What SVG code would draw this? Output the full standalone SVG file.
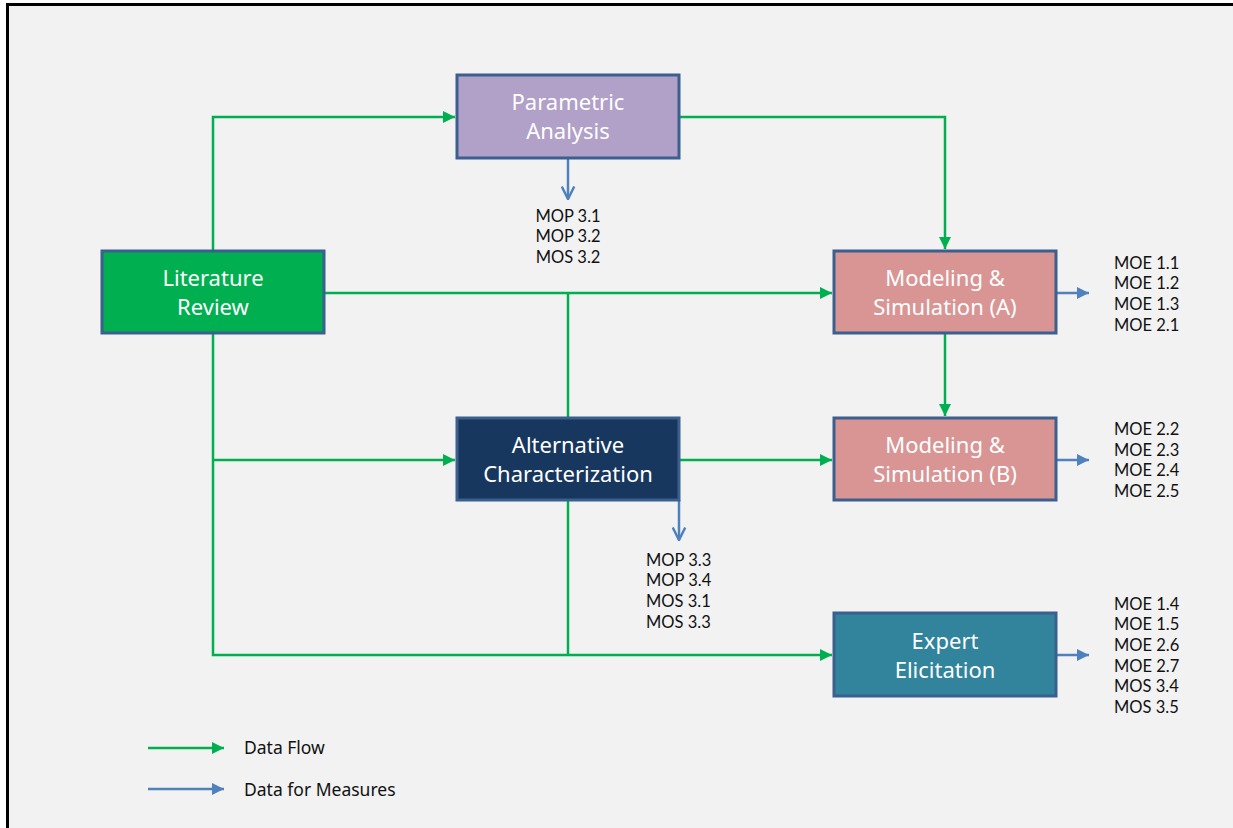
<svg xmlns="http://www.w3.org/2000/svg" width="1233" height="828" viewBox="0 0 1233 828">
<style>
.box{stroke:#3b5f8e;stroke-width:3}
.lbl{font-family:"Noto Sans","Open Sans",sans-serif;font-size:22px;fill:#ffffff;text-anchor:middle}
.sm{font-family:Lato,"Noto Sans",sans-serif;font-size:16.5px;fill:#111111}
.lg{font-family:"Noto Sans","Open Sans",sans-serif;font-size:17.5px;fill:#111111}
.g{stroke:#00b050;stroke-width:2.5;fill:none}
.b{stroke:#4f81bd;stroke-width:2.5;fill:none}
</style>
<defs>
<marker id="ag" viewBox="0 0 10 10" refX="10" refY="5" markerWidth="5" markerHeight="5" orient="auto" markerUnits="strokeWidth"><path d="M0,0 L10,5 L0,10 z" fill="#00b050"/></marker>
<marker id="ab" viewBox="0 0 10 10" refX="10" refY="5" markerWidth="5" markerHeight="5" orient="auto" markerUnits="strokeWidth"><path d="M0,0 L10,5 L0,10 z" fill="#4f81bd"/></marker>
<marker id="av" viewBox="0 0 12 12" refX="11" refY="6" markerWidth="6" markerHeight="6" orient="auto" markerUnits="strokeWidth"><path d="M1,1 L11,6 L1,11" fill="none" stroke="#4f81bd" stroke-width="2"/></marker>
</defs>
<rect x="0" y="0" width="1233" height="828" fill="#ffffff"/>
<rect x="7.5" y="4.5" width="1240" height="840" fill="#f2f2f2" stroke="#000000" stroke-width="3"/>

<g id="connectors">
<polyline class="g" points="213,251 213,117 455,117" marker-end="url(#ag)"/>
<polyline class="g" points="679,117 945,117 945,249" marker-end="url(#ag)"/>
<line class="g" x1="324" y1="293" x2="832" y2="293" marker-end="url(#ag)"/>
<line class="g" x1="568" y1="293" x2="568" y2="418"/>
<polyline class="g" points="213,333 213,655 832,655" marker-end="url(#ag)"/>
<line class="g" x1="213" y1="460" x2="455" y2="460" marker-end="url(#ag)"/>
<line class="g" x1="679" y1="460" x2="832" y2="460" marker-end="url(#ag)"/>
<line class="g" x1="568" y1="500" x2="568" y2="655"/>
<line class="g" x1="945" y1="333" x2="945" y2="416" marker-end="url(#ag)"/>
<line class="b" x1="568" y1="158" x2="568" y2="199" marker-end="url(#av)"/>
<line class="b" x1="679" y1="500" x2="679" y2="540" marker-end="url(#av)"/>
<line class="b" x1="1056" y1="293" x2="1089" y2="293" marker-end="url(#ab)"/>
<line class="b" x1="1056" y1="460" x2="1089" y2="460" marker-end="url(#ab)"/>
<line class="b" x1="1056" y1="655" x2="1089" y2="655" marker-end="url(#ab)"/>
</g>

<g id="parametric">
<rect class="box" x="457" y="75" width="222" height="83" fill="#b1a0c7"/>
<text class="lbl" x="568" y="110">Parametric</text>
<text class="lbl" x="568" y="139">Analysis</text>
</g>
<g id="literature">
<rect class="box" x="102" y="251" width="222" height="82" fill="#00b050"/>
<text class="lbl" x="213" y="286">Literature</text>
<text class="lbl" x="213" y="315">Review</text>
</g>
<g id="msa">
<rect class="box" x="834" y="251" width="222" height="82" fill="#d99594"/>
<text class="lbl" x="945" y="286">Modeling &amp;</text>
<text class="lbl" x="945" y="315">Simulation (A)</text>
</g>
<g id="alternative">
<rect class="box" x="457" y="418" width="222" height="82" fill="#17375e"/>
<text class="lbl" x="568" y="453">Alternative</text>
<text class="lbl" x="568" y="482">Characterization</text>
</g>
<g id="msb">
<rect class="box" x="834" y="418" width="222" height="82" fill="#d99594"/>
<text class="lbl" x="945" y="453">Modeling &amp;</text>
<text class="lbl" x="945" y="482">Simulation (B)</text>
</g>
<g id="expert">
<rect class="box" x="834" y="613" width="222" height="83" fill="#31849b"/>
<text class="lbl" x="945" y="649">Expert</text>
<text class="lbl" x="945" y="678">Elicitation</text>
</g>

<g id="measures-parametric" class="sm" text-anchor="middle">
<text x="568" y="222">MOP 3.1</text>
<text x="568" y="242">MOP 3.2</text>
<text x="568" y="263">MOS 3.2</text>
</g>
<g id="measures-alt" class="sm">
<text x="646" y="566">MOP 3.3</text>
<text x="646" y="586">MOP 3.4</text>
<text x="646" y="607">MOS 3.1</text>
<text x="646" y="628">MOS 3.3</text>
</g>
<g id="measures-msa" class="sm">
<text x="1114" y="269">MOE 1.1</text>
<text x="1114" y="289">MOE 1.2</text>
<text x="1114" y="310">MOE 1.3</text>
<text x="1114" y="331">MOE 2.1</text>
</g>
<g id="measures-msb" class="sm">
<text x="1114" y="435">MOE 2.2</text>
<text x="1114" y="456">MOE 2.3</text>
<text x="1114" y="476">MOE 2.4</text>
<text x="1114" y="497">MOE 2.5</text>
</g>
<g id="measures-expert" class="sm">
<text x="1114" y="610">MOE 1.4</text>
<text x="1114" y="630">MOE 1.5</text>
<text x="1114" y="651">MOE 2.6</text>
<text x="1114" y="672">MOE 2.7</text>
<text x="1114" y="692">MOS 3.4</text>
<text x="1114" y="713">MOS 3.5</text>
</g>

<g id="legend">
<line class="g" x1="148" y1="748" x2="224" y2="748" marker-end="url(#ag)"/>
<text class="lg" x="244" y="754">Data Flow</text>
<line class="b" x1="148" y1="789" x2="224" y2="789" marker-end="url(#ab)"/>
<text class="lg" x="244" y="796">Data for Measures</text>
</g>
</svg>
